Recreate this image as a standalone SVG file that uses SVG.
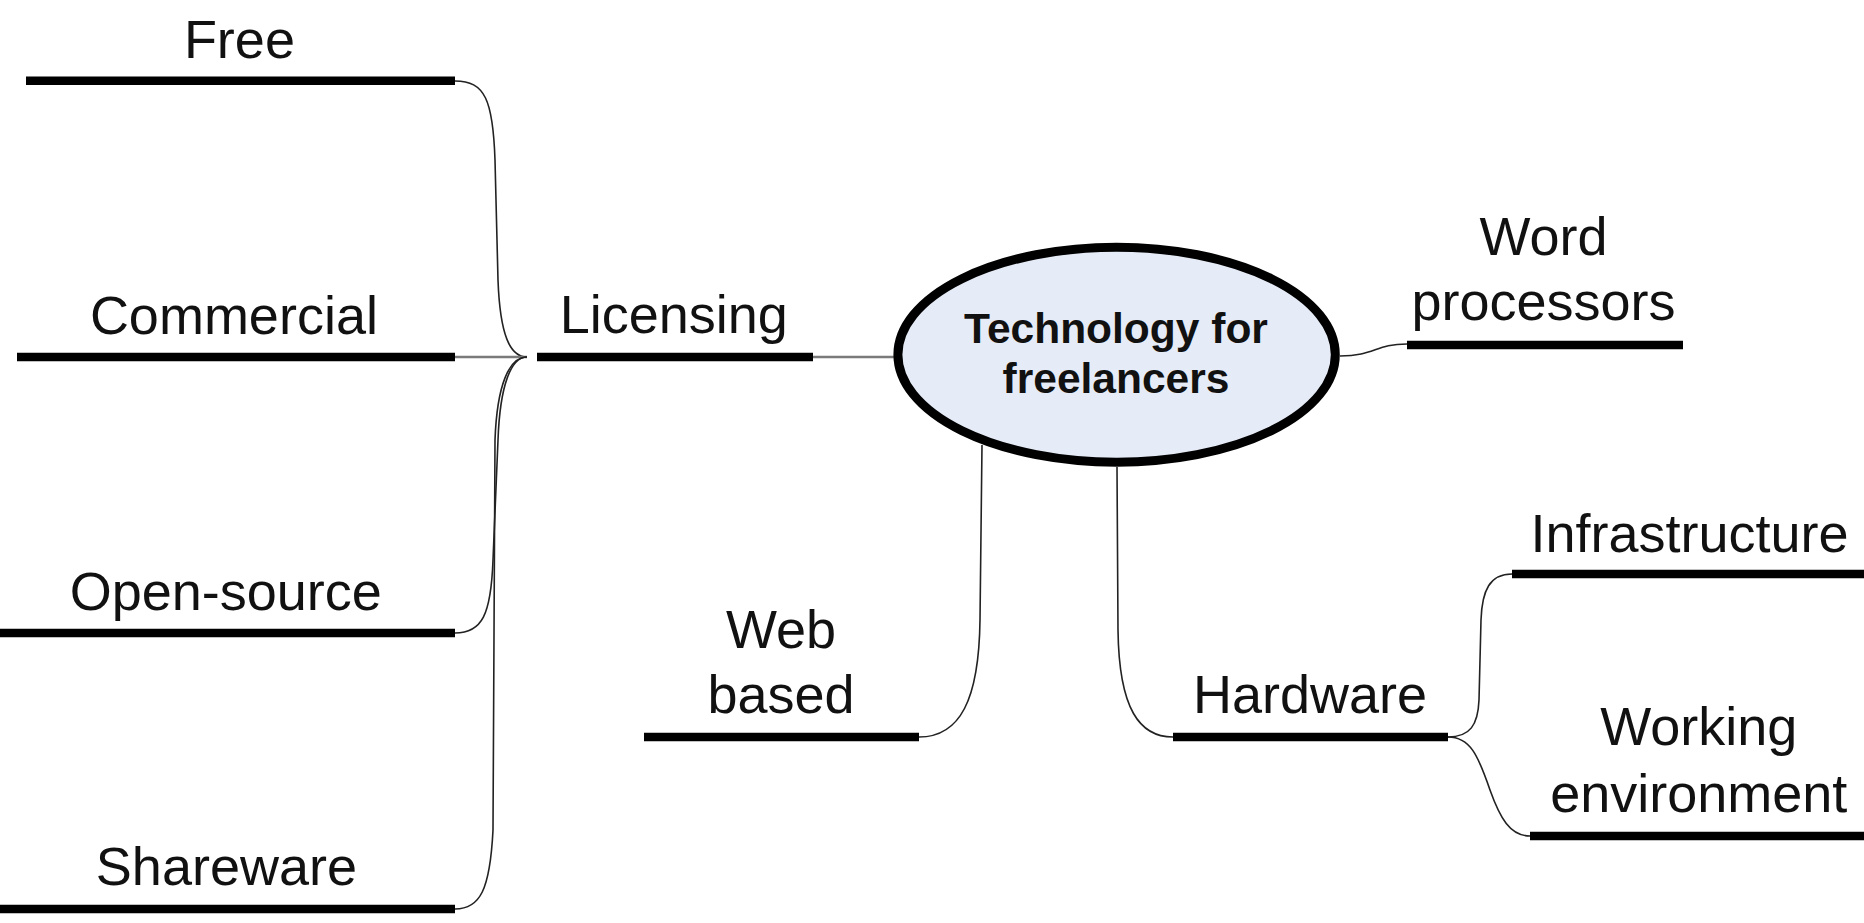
<svg xmlns="http://www.w3.org/2000/svg" width="1864" height="923" viewBox="0 0 1864 923">
<style>
.bar{stroke:#000;stroke-width:8.5;stroke-linecap:butt;fill:none}
.con{stroke:#222;stroke-width:1.6;fill:none}
.gcon{stroke:#7a7a7a;stroke-width:2.5;fill:none}
.lbl{font-family:"Liberation Sans",Arial,sans-serif;font-size:54px;fill:#111;text-anchor:middle}
.ctr{font-family:"Liberation Sans",Arial,sans-serif;font-size:42.5px;font-weight:bold;fill:#111;text-anchor:middle}
</style>
<rect x="0" y="0" width="1864" height="923" fill="#fff"/>
<g id="connectors">
<path class="con" d="M455,81 C485,81 493,100 495,160 L498,280 C500,335 510,357 527,357"/>
<path class="gcon" d="M455,357 L527,357"/>
<path class="con" d="M455,633 C482,633 491,615 493,560 L498,440 C500,385 511,357 527,357"/>
<path class="con" d="M455,909 C480,909 490,890 493,830 L495,440 C497,385 509,357 527,357"/>
<path class="gcon" d="M813,357 L895,357"/>
<path class="con" d="M1340,356 C1375,356 1375,344 1407,344"/>
<path class="con" d="M982,445 L980,620 C979,700 960,737 919,737"/>
<path class="con" d="M1117,467 L1118,630 C1119,710 1140,737 1173,737"/>
<path class="con" d="M1448,737 C1470,737 1478,725 1479,700 L1481,620 C1482,590 1490,574 1512,574"/>
<path class="con" d="M1448,737 C1470,737 1478,755 1490,790 C1500,818 1510,836 1530,836"/>
</g>
<g id="center">
<ellipse cx="1116.6" cy="354.7" rx="218.7" ry="107.5" fill="#e6ecf7" stroke="#000" stroke-width="9"/>
<text class="ctr" x="1116" y="343.3">Technology for</text>
<text class="ctr" x="1116" y="393.3">freelancers</text>
</g>
<g id="licensing">
<line class="bar" x1="537" y1="357" x2="813" y2="357"/>
<text class="lbl" x="673.8" y="333.3">Licensing</text>
</g>
<g id="free">
<line class="bar" x1="26" y1="80.7" x2="455" y2="80.7"/>
<text class="lbl" x="239.4" y="58.3">Free</text>
</g>
<g id="commercial">
<line class="bar" x1="17" y1="357" x2="455" y2="357"/>
<text class="lbl" x="233.9" y="334">Commercial</text>
</g>
<g id="open-source">
<line class="bar" x1="0" y1="633" x2="455" y2="633"/>
<text class="lbl" x="225.8" y="610">Open-source</text>
</g>
<g id="shareware">
<line class="bar" x1="0" y1="909" x2="455" y2="909"/>
<text class="lbl" x="226.4" y="885">Shareware</text>
</g>
<g id="word-processors">
<line class="bar" x1="1407" y1="345" x2="1683" y2="345"/>
<text class="lbl" x="1543.5" y="255">Word</text>
<text class="lbl" x="1543.5" y="320">processors</text>
</g>
<g id="web-based">
<line class="bar" x1="644" y1="737" x2="919" y2="737"/>
<text class="lbl" x="781" y="647.7">Web</text>
<text class="lbl" x="781" y="713.3">based</text>
</g>
<g id="hardware">
<line class="bar" x1="1173" y1="737" x2="1448" y2="737"/>
<text class="lbl" x="1310" y="713.3">Hardware</text>
</g>
<g id="infrastructure">
<line class="bar" x1="1512" y1="574" x2="1864" y2="574"/>
<text class="lbl" x="1689.5" y="551.7">Infrastructure</text>
</g>
<g id="working-environment">
<line class="bar" x1="1530" y1="836" x2="1864" y2="836"/>
<text class="lbl" x="1698.8" y="745">Working</text>
<text class="lbl" x="1698.8" y="811.7">environment</text>
</g>
</svg>
